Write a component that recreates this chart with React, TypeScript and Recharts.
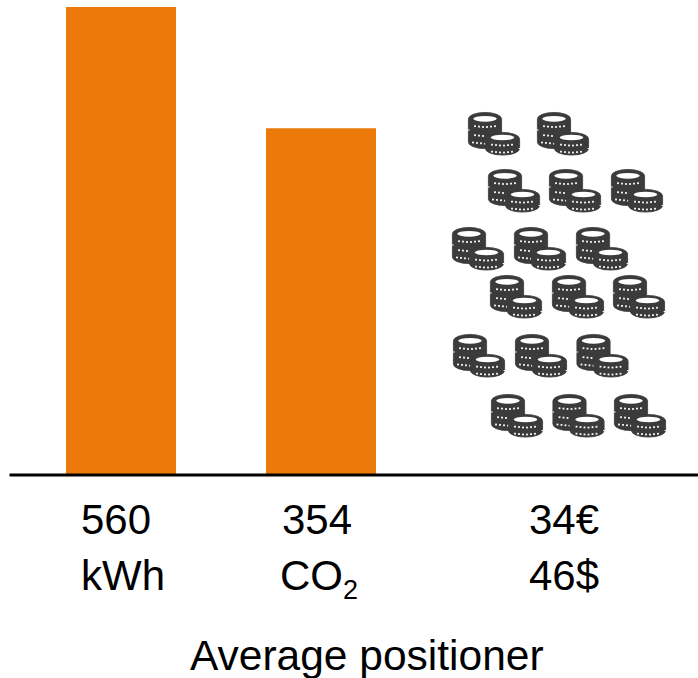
import { Bar, ComposedChart, Label, Scatter, XAxis, YAxis } from "recharts";

const categories = ["kWh", "CO2", "Cost"];
// bar heights as drawn: the second bar is taller than its 354 label would give on this scale
const barValues = [560, 415, null];
const topLabels = ["560", "354", "34€"];
const bottomLabels = ["kWh", "CO", "46$"];
const axisTitle = "Average positioner";

// coin icons, x from the left of the plot, y up from the baseline
const coinX = [
  484.5, 553.5,
  504.5, 565.5, 627.5,
  468.5, 530.5, 592.5,
  506.5, 568.5, 629.5,
  469.5, 531.5, 593,
  507.5, 569, 630.5,
];
const coinY = [
  341, 341,
  284, 284, 284,
  226, 226, 226,
  178, 178, 178,
  119, 119, 119,
  59, 59, 59,
];

const barData = categories.map((name, i) => ({ name, value: barValues[i] }));
const coinData = coinX.map((x, i) => ({ x, y: coinY[i] }));

const INK = "#000000";
const ORANGE = "#EC7A0B";
const COIN = "#3B3B3B";
const FONT = '"Liberation Sans", Arial, sans-serif';

function coinBody(cx: number, rx: number, ry: number, top: number, bottom: number) {
  return `M${cx - rx} ${top}v${bottom - top}a${rx} ${ry} 0 0 0 ${2 * rx} 0v${top - bottom}a${rx} ${ry} 0 0 0 ${-2 * rx} 0z`;
}

function CoinDots({ xs, y, cx }: { xs: number[]; y: number; cx: number }) {
  return (
    <>
      {xs.map((x) => (
        <rect key={x} x={x - 0.9} y={y - 0.9 + (1 - Math.abs(x - cx) / 12) * 1.2} width={1.8} height={1.8} fill="#fff" />
      ))}
    </>
  );
}

function CoinIcon({ cx, cy }: { cx?: number; cy?: number }) {
  const leftDots = [7, 11, 15, 19, 23, 27];
  const rightDots = [24, 28, 32, 36, 40, 44];
  return (
    <g transform={`translate(${(cx ?? 0) - 26} ${(cy ?? 0) - 22})`} style={{ filter: "blur(0.45px)" }}>
      <path d={coinBody(17, 16.6, 6.6, 7, 30)} fill={COIN} stroke={COIN} strokeWidth={0.8} />
      <ellipse cx={17} cy={6.8} rx={11.8} ry={2.9} fill="#fff" />
      <CoinDots xs={leftDots} y={14} cx={17} />
      <CoinDots xs={[7, 11, 15]} y={23} cx={17} />
      <CoinDots xs={[5, 9, 13, 17]} y={30.5} cx={17} />
      <rect x={0} y={17.5} width={1.6} height={1} fill="#fff" />
      <path d={coinBody(34.5, 17.1, 6.6, 27, 36.5)} fill={COIN} stroke={COIN} strokeWidth={0.8} />
      <ellipse cx={34.5} cy={25.5} rx={11.8} ry={2.8} fill="#fff" />
      <CoinDots xs={rightDots} y={32.5} cx={34.5} />
      <CoinDots xs={rightDots} y={39.5} cx={34.5} />
      <rect x={50.6} y={36} width={1.6} height={1} fill="#fff" />
    </g>
  );
}

function AxisTick({ x, y, index }: { x?: number; y?: number; index?: number }) {
  const i = index ?? 0;
  const left = (x ?? 0) + [-40, -39, 8][i];
  const base = y ?? 0;
  const isCo2 = i === 1;
  return (
    <g fontFamily={FONT} fontSize={42} fill={INK}>
      <text x={left} y={base + 53}>{topLabels[i]}</text>
      <text x={isCo2 ? left - 2 : left} y={base + 109}>
        {bottomLabels[i]}
        {isCo2 && (
          <tspan dy={9} fontSize={27}>2</tspan>
        )}
      </text>
    </g>
  );
}

export default function App() {
  return (
    <div style={{ position: "absolute", left: 0, top: 0, width: 698, height: 678, background: "#fff" }}>
      <ComposedChart
        width={698}
        height={678}
        data={barData}
        margin={{ top: 7, right: 0, bottom: 3, left: 9.5 }}
      >
        <XAxis
          xAxisId="bars"
          dataKey="name"
          type="category"
          height={200}
          padding={{ left: 11.5, right: 77 }}
          axisLine={{ stroke: INK, strokeWidth: 3 }}
          tickLine={false}
          tickMargin={0}
          tick={<AxisTick />}
          interval={0}
        >
          <Label
            value={axisTitle}
            position="insideBottom"
            offset={5}
            dx={13}
            fontFamily={FONT}
            fontSize={42.5}
            fill={INK}
          />
        </XAxis>
        <XAxis xAxisId="coins" dataKey="x" type="number" domain={[0, 688.5]} hide />
        <YAxis yAxisId="bars" domain={[0, 560]} hide />
        <YAxis yAxisId="coins" dataKey="y" type="number" domain={[0, 468]} hide />
        <Bar
          xAxisId="bars"
          yAxisId="bars"
          dataKey="value"
          fill={ORANGE}
          barSize={110}
          isAnimationActive={false}
        />
        <Scatter
          xAxisId="coins"
          yAxisId="coins"
          data={coinData}
          dataKey="y"
          shape={<CoinIcon />}
          isAnimationActive={false}
        />
      </ComposedChart>
    </div>
  );
}
